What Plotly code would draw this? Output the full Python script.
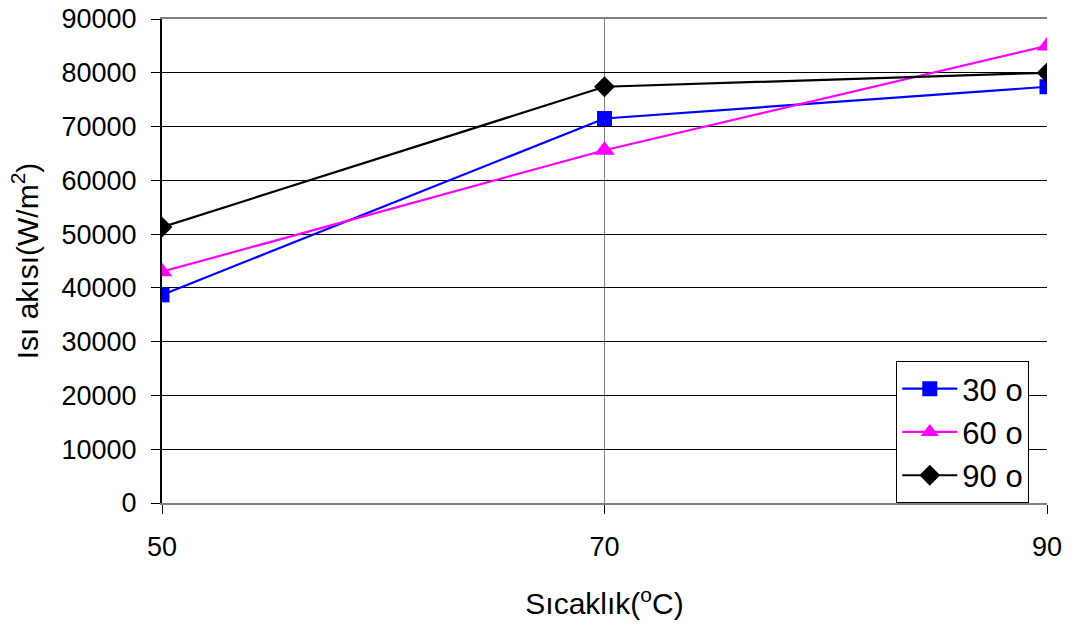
import plotly.graph_objects as go

temps = [50, 70, 90]
s30 = [38700, 71500, 77400]
s60 = [43000, 65600, 85000]
s90 = [51300, 77400, 80000]
names = ["30 o", "60 o", "90 o"]
yticks = [0, 10000, 20000, 30000, 40000, 50000, 60000, 70000, 80000, 90000]

FONT = "Arial, Liberation Sans, sans-serif"

fig = go.Figure()
fig.add_trace(go.Scatter(x=temps, y=s30, name=names[0], mode="lines+markers",
                         line=dict(color="#0000FF", width=2.2),
                         marker=dict(symbol="square", size=15, color="#0000FF")))
fig.add_trace(go.Scatter(x=temps, y=s60, name=names[1], mode="lines+markers",
                         line=dict(color="#FF00FF", width=2.2),
                         marker=dict(symbol="triangle-up", size=18, color="#FF00FF")))
fig.add_trace(go.Scatter(x=temps, y=s90, name=names[2], mode="lines+markers",
                         line=dict(color="#000000", width=2.2),
                         marker=dict(symbol="diamond", size=16, color="#000000")))

fig.update_layout(
    width=1073, height=634,
    margin=dict(l=162, r=26, t=19, b=131, autoexpand=False),
    paper_bgcolor="white", plot_bgcolor="white",
    font=dict(family=FONT, size=27, color="black"),
    showlegend=True,
    legend=dict(x=0.98, xanchor="right", y=0, yanchor="bottom",
                bordercolor="black", borderwidth=1, bgcolor="white",
                font=dict(family=FONT, size=31, color="black"),
                itemwidth=55, tracegroupgap=0),
    xaxis=dict(range=[50, 90], tickvals=temps, ticktext=[str(t) for t in temps],
               automargin=False, ticklabeloverflow="allow",
               showgrid=True, gridcolor="#808080", gridwidth=1,
               showline=True, linecolor="#808080", linewidth=2, mirror=True,
               ticks="outside", ticklen=9, tickcolor="black", tickwidth=1,
               ticklabelstandoff=10,
               tickfont=dict(family=FONT, size=27),
               title=dict(text="Sıcaklık(<sup>o</sup>C)", font=dict(family=FONT, size=30), standoff=32),
               zeroline=False),
    yaxis=dict(range=[0, 90000], tickvals=yticks, ticktext=[str(v) for v in yticks],
               automargin=False, ticklabeloverflow="allow",
               showgrid=True, gridcolor="black", gridwidth=1,
               showline=True, linecolor="black", linewidth=2,
               ticks="outside", ticklen=9, tickcolor="black", tickwidth=1,
               ticklabelstandoff=9,
               tickfont=dict(family=FONT, size=27),
               title=dict(text="Isı akısı(W/m<sup>2</sup>)", font=dict(family=FONT, size=30), standoff=14),
               zeroline=False),
)

fig.write_html("out.html", config={"displayModeBar": False},
               post_script="document.body.style.margin='0';")
